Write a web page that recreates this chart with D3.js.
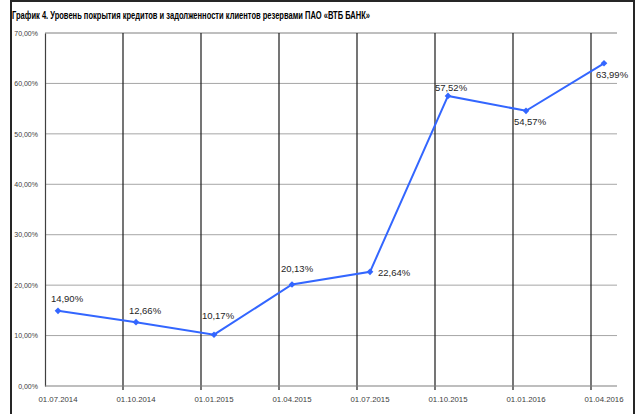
<!DOCTYPE html>
<html>
<head>
<meta charset="utf-8">
<script src="https://cdn.jsdelivr.net/npm/d3@7"></script>
<style>
  body { margin: 0; background: #fff; }
  svg { display: block; font-family: "Liberation Sans", Arial, sans-serif; }
</style>
</head>
<body>
<svg></svg>
<script>
let dates = ["01.07.2014", "01.10.2014", "01.01.2015", "01.04.2015", "01.07.2015", "01.10.2015", "01.01.2016", "01.04.2016"]
let values = [14.90, 12.66, 10.17, 20.13, 22.64, 57.52, 54.57, 63.99]
let yTicks = [0, 10, 20, 30, 40, 50, 60, 70]
let title = "График 4. Уровень покрытия кредитов и задолженности клиентов резервами ПАО «ВТБ БАНК»"

let svgWidth = 640
let svgHeight = 414

let svg = d3.select("svg")
  .attr("width", svgWidth)
  .attr("height", svgHeight)

// frame
svg.append("rect")
  .attr("x", 11).attr("y", 1)
  .attr("width", 623).attr("height", 430)
  .attr("fill", "none")
  .attr("stroke", "#262626")
  .attr("stroke-width", 2)

svg.append("text")
  .attr("x", 12).attr("y", 19)
  .attr("font-size", 10)
  .attr("font-weight", "bold")
  .attr("textLength", 358)
  .attr("lengthAdjust", "spacingAndGlyphs")
  .attr("fill", "#000")
  .text(title)

// month index from "dd.mm.yyyy"
let parse = d3.timeParse("%d.%m.%Y")
let monthIdx = s => {
  let d = parse(s)
  return (d.getFullYear() - 2014) * 12 + d.getMonth() - 6
}
let nMonths = monthIdx(dates[dates.length - 1]) + 1

// SCALES
let xScale = d3.scaleLinear()
  .domain([0, nMonths])
  .range([45, 617])

let yScale = d3.scaleLinear()
  .domain([0, 70])
  .range([386, 33])

let fmt = v => d3.format(".2f")(v).replace(".", ",") + "%"

// horizontal gridlines
svg.append("g")
  .selectAll("line")
  .data(yTicks.filter(t => t > 0))
  .enter()
  .append("line")
  .attr("x1", 45).attr("x2", 617)
  .attr("y1", d => yScale(d)).attr("y2", d => yScale(d))
  .attr("stroke", d => d === 70 ? "#7f7f7f" : "#a6a6a6")
  .attr("stroke-width", 1)

// Y axis
let yAxis = d3.axisLeft(yScale)
  .tickValues(yTicks)
  .tickSize(0)
  .tickPadding(7)
  .tickFormat(d => fmt(d))

svg.append("g")
  .attr("transform", "translate(45, 0)")
  .call(yAxis)
  .call(g => g.select(".domain").attr("stroke", "#404040").attr("stroke-width", 1.2))
  .call(g => g.selectAll("text").attr("font-size", 7).attr("fill", "#404040")
    .attr("font-family", "'Liberation Sans', Arial, sans-serif"))

// vertical gridlines at quarter boundaries
svg.append("g")
  .selectAll("line")
  .data(dates.slice(1))
  .enter()
  .append("line")
  .attr("x1", d => xScale(monthIdx(d))).attr("x2", d => xScale(monthIdx(d)))
  .attr("y1", 33).attr("y2", 390)
  .attr("stroke", "#1a1a1a")
  .attr("stroke-width", 1.2)

// X axis
svg.append("line")
  .attr("x1", 45).attr("x2", 617)
  .attr("y1", 386).attr("y2", 386)
  .attr("stroke", "#7f7f7f")
  .attr("stroke-width", 1.2)

svg.append("g")
  .selectAll("text")
  .data(dates)
  .enter()
  .append("text")
  .attr("x", d => xScale(monthIdx(d) + 0.5))
  .attr("y", 402)
  .attr("text-anchor", "middle")
  .attr("font-size", 7.8)
  .attr("fill", "#404040")
  .text(d => d)

// LINE
let pts = dates.map((d, i) => ({ x: xScale(monthIdx(d) + 0.5), y: yScale(values[i]), v: values[i] }))

svg.append("path")
  .datum(pts)
  .attr("d", d3.line().x(d => d.x).y(d => d.y))
  .attr("fill", "none")
  .attr("stroke", "#3366ff")
  .attr("stroke-width", 2)

svg.append("g")
  .selectAll("path")
  .data(pts)
  .enter()
  .append("path")
  .attr("d", d3.symbol().type(d3.symbolSquare).size(22))
  .attr("transform", d => `translate(${d.x}, ${d.y}) rotate(45)`)
  .attr("fill", "#3366ff")

// LABELS (manual nudges, like the moved labels in the original)
let labelDx = [9, 9, 4, 5, 8, 3, 4, 8]
let labelDy = [-9, -8, -16, -12, 4, -5, 14, 15]
svg.append("g")
  .selectAll("text")
  .data(pts)
  .enter()
  .append("text")
  .attr("x", (d, i) => d.x + labelDx[i])
  .attr("y", (d, i) => d.y + labelDy[i])
  .attr("text-anchor", (d, i) => i === 4 ? "start" : "middle")
  .attr("font-size", 9.5)
  .attr("fill", "#262626")
  .text(d => fmt(d.v))
</script>
</body>
</html>
